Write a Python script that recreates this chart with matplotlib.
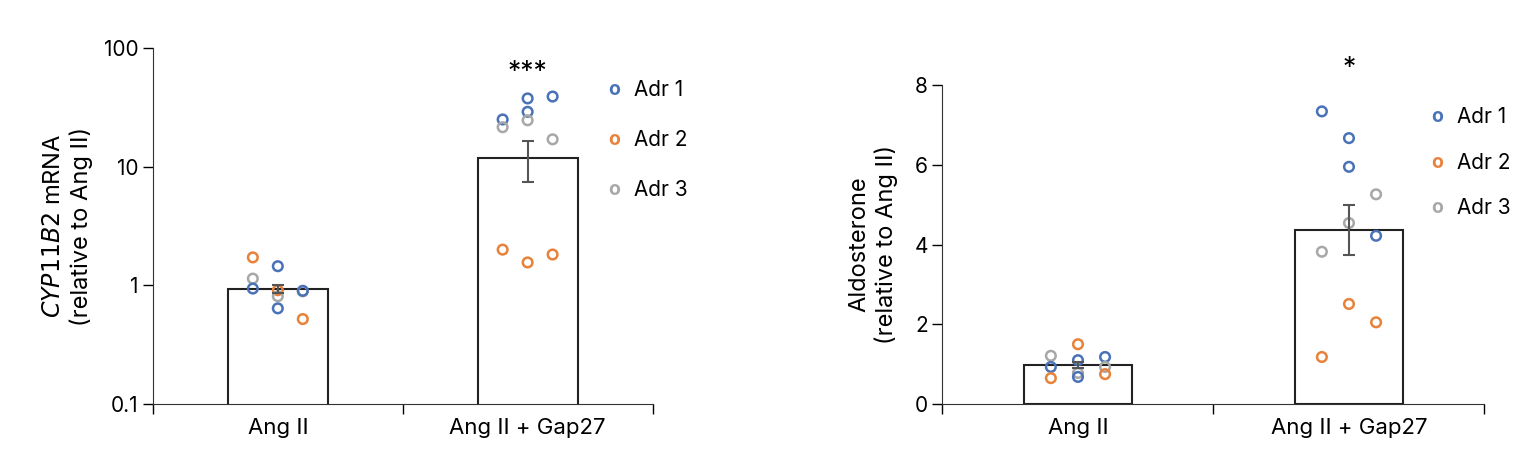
import matplotlib
matplotlib.use("Agg")
import matplotlib.pyplot as plt
import numpy as np

plt.rcParams["font.family"] = "Inter"
plt.rcParams["font.size"] = 13

categories = ["Ang II", "Ang II + Gap27"]
adr_labels = ["Adr 1", "Adr 2", "Adr 3"]
colors = ["#4a72b8", "#e8823a", "#a8a8a8"]

# Left panel: CYP11B2 mRNA (log scale)
mrna_mean = [0.94, 11.8]
mrna_err_lo = [0.86, 7.4]
mrna_err_hi = [1.0, 16.3]
# points: (category, offset slot -1/0/1, adr index, value)
mrna_pts = [
    (0, -1, 1, 1.72), (0, 0, 0, 1.45), (0, -1, 2, 1.14), (0, -1, 0, 0.94),
    (0, 0, 1, 0.91), (0, 0, 2, 0.81), (0, 1, 2, 0.89), (0, 1, 0, 0.90),
    (0, 0, 0, 0.64), (0, 1, 1, 0.52),
    (1, -1, 0, 25.0), (1, -1, 2, 21.5), (1, 0, 0, 37.6), (1, 0, 0, 29.0),
    (1, 0, 2, 24.6), (1, 1, 0, 39.0), (1, 1, 2, 17.0),
    (1, -1, 1, 2.0), (1, 0, 1, 1.56), (1, 1, 1, 1.82),
]

# Right panel: Aldosterone
aldo_mean = [0.98, 4.36]
aldo_err_lo = [0.90, 3.73]
aldo_err_hi = [1.06, 4.99]
aldo_pts = [
    (0, -1, 2, 1.21), (0, 0, 1, 1.50), (0, 0, 0, 1.10), (0, 1, 0, 1.18),
    (0, -1, 0, 0.93), (0, 1, 2, 0.93), (0, 0, 2, 0.78), (0, 0, 0, 0.68),
    (0, 1, 1, 0.75), (0, -1, 1, 0.65),
    (1, -1, 0, 7.34), (1, 0, 0, 6.67), (1, 0, 0, 5.95), (1, 1, 2, 5.26),
    (1, 0, 2, 4.54), (1, 1, 0, 4.22), (1, -1, 2, 3.82), (1, 0, 1, 2.51),
    (1, 1, 1, 2.05), (1, -1, 1, 1.18),
]

fig = plt.figure(figsize=(15.14, 4.55), dpi=100)
ax1 = fig.add_axes([0.101, 0.112, 0.330, 0.7825])
ax2 = fig.add_axes([0.6225, 0.112, 0.358, 0.701])

def draw(ax, mean, lo, hi, pts, dx, star, star_y):
    x = np.arange(len(categories))
    ax.bar(x, mean, width=0.4, color="white", edgecolor="#222222", linewidth=1.5, zorder=1)
    for c, s, a, v in pts:
        ax.scatter(c + s * dx, v, s=48, facecolors="none", edgecolors=colors[a], linewidths=1.8, zorder=3)
    m = np.array(mean)
    ax.errorbar(x, m, yerr=[m - np.array(lo), np.array(hi) - m], fmt="none",
                ecolor="#555555", elinewidth=1.5, capsize=4, capthick=1.5, zorder=4)
    ax.text(1, star_y, star, ha="center", va="center", fontsize=19)
    ax.set_xlim(-0.5, 1.5)
    ax.set_xticks(x)
    ax.set_xticklabels(categories, fontsize=16)
    ax.tick_params(axis="x", which="major", length=0, pad=10)
    ax.tick_params(axis="y", length=7, width=1, labelsize=15)
    for sp in ["top", "right"]:
        ax.spines[sp].set_visible(False)
    for sp in ["left", "bottom"]:
        ax.spines[sp].set_color("#333333")

draw(ax1, mrna_mean, mrna_err_lo, mrna_err_hi, mrna_pts, 0.1, "***", 62)
ax1.set_yscale("log")
ax1.set_ylim(0.1, 100)
ax1.set_yticks([0.1, 1, 10, 100])
ax1.set_yticklabels(["0.1", "1", "10", "100"])
ax1.minorticks_off()
ax1.set_ylabel("$\\it{CYP11B2}$ mRNA\n(relative to Ang II)", fontsize=17, labelpad=8)

draw(ax2, aldo_mean, aldo_err_lo, aldo_err_hi, aldo_pts, 0.1, "*", 8.4)
ax2.set_ylim(0, 8)
ax2.set_yticks([0, 2, 4, 6, 8])
ax2.set_ylabel("Aldosterone\n(relative to Ang II)", fontsize=17, labelpad=12)

for ax in (ax1, ax2):
    ax.set_xticks([-0.5, 0.5, 1.5], minor=True)
    ax.tick_params(axis="x", which="minor", length=7, width=1)

for i, lab in enumerate(adr_labels):
    fig.text(614 / 1514, 1 - (90 + 50 * i) / 455, "o", color=colors[i], ha="center", va="center", fontsize=14, fontweight="bold")
    fig.text(634 / 1514, 1 - (90 + 50 * i) / 455, lab, ha="left", va="center", fontsize=15)
    fig.text(1437 / 1514, 1 - (117 + 45.5 * i) / 455, "o", color=colors[i], ha="center", va="center", fontsize=14, fontweight="bold")
    fig.text(1457 / 1514, 1 - (117 + 45.5 * i) / 455, lab, ha="left", va="center", fontsize=15)

fig.savefig("out.png", dpi=100)
